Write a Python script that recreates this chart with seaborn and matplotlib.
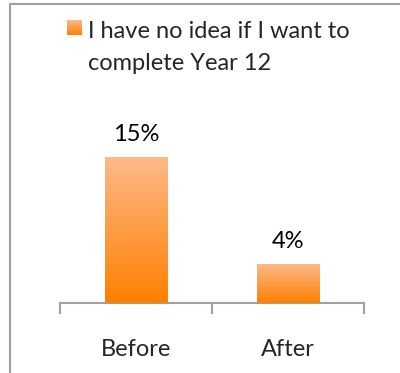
import numpy as np
import pandas as pd
import matplotlib
matplotlib.use("Agg")
import matplotlib.pyplot as plt
from matplotlib.lines import Line2D
from matplotlib.colors import LinearSegmentedColormap
import seaborn as sns

categories = ["Before", "After"]
values = [15, 4]
value_labels = ["15%", "4%"]
series_lines = ["I have no idea if I want to", "complete Year 12"]

sns.set_theme(style="white")
plt.rcParams['font.family'] = ['Lato', 'DejaVu Sans']
FS = 17

fig = plt.figure(figsize=(4.0, 3.73), dpi=100)
ax = fig.add_axes([0.15, 0.1877, 0.76, 0.522])

df = pd.DataFrame({"cat": categories, "val": values})
sns.barplot(data=df, x="cat", y="val", ax=ax, color="#FB9A45", width=0.41, saturation=1)

cmap = LinearSegmentedColormap.from_list("og", ["#FF8000", "#FDB98A"])
grad = np.linspace(0, 1, 256).reshape(-1, 1)
for p in list(ax.patches):
    x0, y0 = p.get_x(), p.get_y()
    w, h = p.get_width(), p.get_height()
    im = ax.imshow(grad, cmap=cmap, origin="lower", aspect="auto",
                   extent=[x0, x0 + w, y0, y0 + h], zorder=3)
    im.set_clip_path(p)
    p.set_alpha(0)

ax.set_xlim(-0.5, 1.5)
ax.set_ylim(0, 20)
for i, (v, lab) in enumerate(zip(values, value_labels)):
    ax.text(i, v + 1.65, lab, ha="center", va="baseline", fontsize=FS, color="#000000")

for s in ["top", "right", "left"]:
    ax.spines[s].set_visible(False)
ax.spines["bottom"].set_color("#A0A0A0")
ax.spines["bottom"].set_linewidth(1.5)
ax.set_yticks([])
ax.set_xlabel("")
ax.set_ylabel("")
ax.set_xticks([-0.5, 0.5, 1.5], minor=False)
ax.set_xticklabels([])
ax.tick_params(axis="x", which="major", direction="out", length=8, width=1.5,
               color="#A0A0A0", bottom=True)
ax.set_xticks([0, 1], minor=True)
ax.set_xticklabels(categories, minor=True, fontsize=FS)
ax.tick_params(axis="x", which="minor", length=0, pad=38)
for t in ax.get_xticklabels(minor=True):
    t.set_va("baseline")

# legend marker with gradient
lax = fig.add_axes([67 / 400, 1 - 35 / 373, 15 / 400, 15 / 373])
lax.imshow(grad, cmap=cmap, origin="lower", aspect="auto", extent=[0, 1, 0, 1])
lax.set_axis_off()
# legend text
fig.text(88 / 400, 1 - 38 / 373, series_lines[0], fontsize=FS, ha="left", va="baseline")
fig.text(88 / 400, 1 - 70 / 373, series_lines[1], fontsize=FS, ha="left", va="baseline")

# frame
fig.add_artist(Line2D([10 / 400, 10 / 400], [0, 1 - 4 / 373], color="#A0A0A0", lw=1.5))
fig.add_artist(Line2D([10 / 400, 1], [1 - 4 / 373, 1 - 4 / 373], color="#A0A0A0", lw=1.5))

fig.savefig("out.png", dpi=100)
